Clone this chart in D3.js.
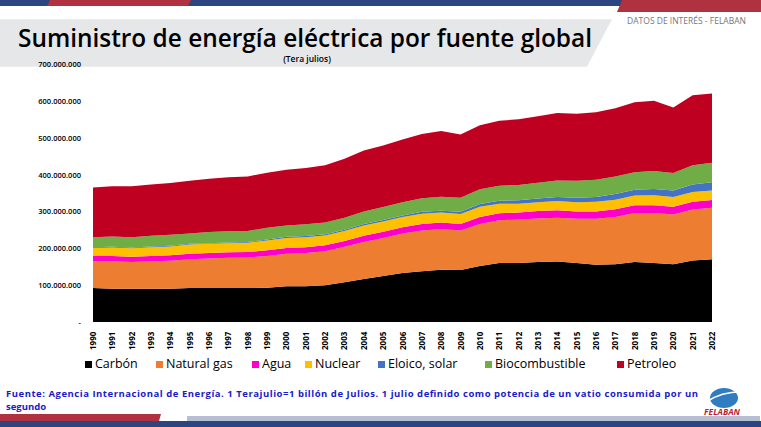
<!DOCTYPE html>
<html>
<head>
<meta charset="utf-8">
<style>
  body { margin: 0; background: #fff; font-family: "Liberation Sans", Arial, sans-serif; }
  svg text { font-family: "Open Sans", "Liberation Sans", sans-serif; }
</style>
</head>
<body>
<svg id="chart" width="761" height="427"></svg>
<script src="https://cdn.jsdelivr.net/npm/d3@7"></script>
<script>
const years = d3.range(1990, 2023);
const seriesNames = ["Carbón", "Natural gas", "Agua", "Nuclear", "Eloico, solar", "Biocombustible", "Petroleo"];
const seriesColors = ["#000000", "#ed7d31", "#ff00cc", "#ffc000", "#4472c4", "#70ad47", "#c00021"];
const carbon = [92,90,90,90,90,92,92,92,92,93,97,97,100,108,117,125,133,138,142,141,152,160,160,163,164,160,155,157,163,160,157,167,170];
const gas = [73,75,73,75,76,78,80,82,83,86,88,90,92,96,100,103,107,110,110,107,114,116,118,118,119,120,125,128,133,136,135,138,140];
const agua = [14,14,14,14,15,15,15,15,15,16,16,16,16,16,17,17,17,18,18,18,19,19,19,20,20,20,20,21,21,21,21,21,21];
const nuclear = [22,23,23,24,24,25,25,25,25,26,27,27,27,27,28,28,28,28,27,27,28,26,24,24,25,25,26,26,26,27,26,27,26];
const eolico = [2,2,2,2,2,2,2,2,2,3,3,3,3,3,4,4,4,5,5,6,7,8,9,10,11,12,13,15,16,17,18,20,22];
const bio = [27,28,28,29,30,28,30,30,30,32,31,32,32,33,34,35,36,37,38,38,40,41,42,43,45,46,47,48,47,49,47,52,53];
const petroleo = [135,136,138,139,140,143,145,147,148,149,151,153,155,160,165,167,170,174,178,172,174,176,178,180,183,182,183,185,190,190,178,190,188];
const yTicks = [0,100,200,300,400,500,600,700];

const svg = d3.select("#chart");

// header stripes
svg.append("rect").attr("x",0).attr("y",0).attr("width",761).attr("height",6).attr("fill","#2b4580");
svg.append("polygon").attr("points","50,0 191,0 188,6 47,6").attr("fill","#b0313f");
svg.append("polygon").attr("points","622,0 761,0 761,12 617,12").attr("fill","#b0313f");
svg.append("polygon").attr("points","0,19 612,19 587,91 0,91").attr("fill","#e6e7e8").attr("transform","translate(0,0) scale(1,0.66) translate(0,10)");
svg.append("text").attr("x",18).attr("y",47).attr("font-size",26).attr("font-weight",600)
  .attr("textLength",574).attr("lengthAdjust","spacingAndGlyphs")
  .attr("font-family","'Open Sans', sans-serif").text("Suministro de energía eléctrica por fuente global");
svg.append("text").attr("x",746).attr("y",24).attr("text-anchor","end").attr("font-size",8.5).attr("fill","#777")
  .text("DATOS DE INTERÉS - FELABAN");
svg.append("text").attr("x",307).attr("y",62).attr("text-anchor","middle").attr("font-size",8.5).attr("font-weight",600).text("(Tera julios)");

const x = d3.scaleLinear().domain([1990, 2022]).range([93, 712]);
const y = d3.scaleLinear().domain([0, 700]).range([322, 64]);

const rows = years.map((yr, i) => ({
  year: yr, s0: carbon[i], s1: gas[i], s2: agua[i], s3: nuclear[i], s4: eolico[i], s5: bio[i], s6: petroleo[i]
}));
const stack = d3.stack().keys(["s0","s1","s2","s3","s4","s5","s6"])(rows);
const area = d3.area().x(d => x(d.data.year)).y0(d => y(d[0])).y1(d => y(d[1]));
svg.append("g").selectAll("path").data(stack).join("path")
  .attr("d", area).attr("fill", (d, i) => seriesColors[i]);

// y axis labels
svg.append("g").selectAll("text").data(yTicks).join("text")
  .attr("x", 81).attr("y", d => y(d) + 3).attr("text-anchor", "end")
  .attr("font-size", 7.5).attr("font-weight", 600)
  .text(d => d === 0 ? "-" : d3.format(",")(d * 1000000).replace(/,/g, "."));

// x axis labels rotated
svg.append("g").selectAll("text").data(years).join("text")
  .attr("transform", d => `translate(${x(d) + 3},${350}) rotate(-90)`)
  .attr("font-size", 8).attr("font-weight", 700).attr("font-family", "'DejaVu Sans', sans-serif")
  .text(d => d);

// legend
const legX = [85, 156, 252, 305, 378, 485, 617];
const leg = svg.append("g").selectAll("g").data(seriesNames).join("g")
  .attr("transform", (d, i) => `translate(${legX[i]},368)`);
leg.append("rect").attr("x", 0).attr("y", -7).attr("width", 7).attr("height", 7).attr("fill", (d, i) => seriesColors[i]);
leg.append("text").attr("x", 10).attr("y", 0).attr("font-size", 12.5).text(d => d);

// footer note
const note = svg.append("text").attr("font-size", 9.5).attr("font-weight", 700).attr("fill", "#1a1acc")
  .attr("font-family", "'Liberation Sans', Arial, sans-serif");
note.append("tspan").attr("x", 6).attr("y", 397).attr("textLength", 692).attr("lengthAdjust","spacing")
  .text("Fuente: Agencia Internacional de Energía. 1 Terajulio=1 billón de Julios. 1 julio definido como potencia de un vatio consumida por un");
note.append("tspan").attr("x", 6).attr("y", 410).text("segundo");

// footer stripes
svg.append("rect").attr("x", 0).attr("y", 421).attr("width", 761).attr("height", 6).attr("fill", "#2b4580");
svg.append("polygon").attr("points", "0,414 161,414 159,421 0,421").attr("fill", "#b0313f");
svg.append("polygon").attr("points", "187,416 760,416 760,421 187,421").attr("fill", "#2b4580").attr("opacity", 0.35);

// logo
svg.append("ellipse").attr("cx", 724).attr("cy", 398).attr("rx", 14).attr("ry", 10).attr("fill", "#2f7dc0");
svg.append("path").attr("d", "M706,402 Q724,390 748,392").attr("stroke", "#fff").attr("stroke-width", 1.5).attr("fill", "none");
svg.append("text").attr("x", 722).attr("y", 415).attr("text-anchor", "middle").attr("font-size", 8.5)
  .attr("font-weight", 700).attr("font-style", "italic").attr("fill", "#c0202c").text("FELABAN");
</script>
</body>
</html>
